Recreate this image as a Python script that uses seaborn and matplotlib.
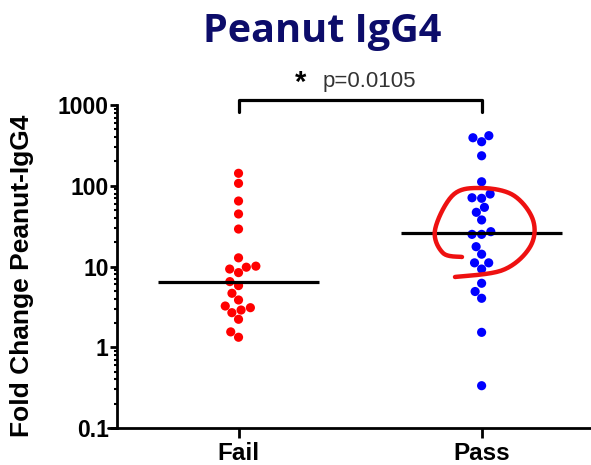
import numpy as np
import pandas as pd
import matplotlib
matplotlib.use("Agg")
import matplotlib.pyplot as plt
import seaborn as sns

# Fold change in peanut-specific IgG4 per subject, by challenge outcome
groups = ["Fail", "Pass"]
fail_values = [142.6, 107, 64.7, 44.7, 29.1, 12.8, 10.1, 9.8, 9.3, 8.4, 6.5,
               5.8, 4.66, 3.85, 3.24, 3.09, 2.89, 2.68, 2.22, 1.55, 1.33]
pass_values = [417, 393, 351, 235, 112, 79, 71, 69.9, 54, 46.9, 37.7, 27,
               25, 25, 17.6, 14.2, 11.1, 11.1, 9.3, 6.2, 4.9, 4.04, 1.53, 0.334]
group_colors = ["#ff0000", "#0000ff"]
y_ticks = [0.1, 1, 10, 100, 1000]
y_tick_labels = ["0.1", "1", "10", "100", "1000"]
p_text = "p=0.0105"

df = pd.DataFrame({
    "group": ["Fail"] * len(fail_values) + ["Pass"] * len(pass_values),
    "value": fail_values + pass_values,
})

sns.set_style("white")
plt.rcParams["font.family"] = ["Liberation Sans", "DejaVu Sans"]

W, H = 591, 465
fig = plt.figure(figsize=(W / 100, H / 100), dpi=100)
ax_left, ax_right, ax_bottom, ax_top = 117, 591, 428, 105
ax = fig.add_axes([ax_left / W, 1 - ax_bottom / H,
                   (ax_right - ax_left) / W, (ax_bottom - ax_top) / H])
ax.set_yscale("log")

sns.swarmplot(data=df, x="group", y="value", hue="group", order=groups,
              palette=group_colors, size=6.6, linewidth=0, ax=ax,
              legend=False, zorder=3)

# median bars
for i, vals in enumerate([fail_values, pass_values]):
    ax.hlines(np.median(vals), i - 0.33, i + 0.33, color="black",
              linewidth=2.3, zorder=4)

ax.set_ylim(0.1, 1000)
ax.set_xlim(-0.5, 1.45)
ax.set_yticks(y_ticks)
ax.set_yticklabels(y_tick_labels)
ax.yaxis.set_minor_locator(matplotlib.ticker.LogLocator(base=10, subs=np.arange(2, 10)))
ax.yaxis.set_minor_formatter(matplotlib.ticker.NullFormatter())

for s in ["top", "right"]:
    ax.spines[s].set_visible(False)
for s in ["left", "bottom"]:
    ax.spines[s].set_linewidth(2.0)
    ax.spines[s].set_color("black")

ax.tick_params(axis="y", which="major", direction="out", length=5, width=2,
               color="black", left=True, pad=1)
ax.tick_params(axis="y", which="minor", direction="out", length=2.5, width=1.5,
               color="black", left=True)
ax.tick_params(axis="x", which="major", direction="out", length=7, width=2,
               color="black", bottom=True, pad=3)
for lab in ax.get_yticklabels():
    lab.set_fontweight("bold")
    lab.set_fontsize(16.5)
    lab.set_color("black")
for lab in ax.get_xticklabels():
    lab.set_fontweight("bold")
    lab.set_fontsize(17.5)
    lab.set_color("black")

ax.set_xlabel("")
ax.set_ylabel("Fold Change Peanut-IgG4", fontsize=19, fontweight="bold",
              color="black")
ax.yaxis.set_label_coords(-0.175, 0.47)

# bottom axis line runs slightly past the y axis
fig.add_artist(matplotlib.lines.Line2D([108 / W, ax_left / W],
                                       [1 - ax_bottom / H] * 2,
                                       color="black", linewidth=2.0))

# significance bracket between the groups
y_bar, y_foot = 1150, 820
ax.plot([0, 0, 1, 1], [y_foot, y_bar, y_bar, y_foot], color="black",
        linewidth=2.3, clip_on=False, solid_joinstyle="round",
        solid_capstyle="round")
ax.text(0.255, 1850, "*", fontsize=21, fontweight="bold", color="black",
        ha="center", va="center", clip_on=False)
ax.text(0.345, 1950, p_text, fontsize=16, color="#333333",
        ha="left", va="center", clip_on=False)

# title
fig.text(322 / W, 1 - 42 / H, "Peanut IgG4", fontsize=28.5, fontweight="bold",
         color="#0c0c6a", ha="center", va="baseline", family="Open Sans")

# hand-drawn highlight loop around the Pass cluster
loop_px = np.array([(462, 257), (443, 253), (435, 230), (453, 195), (480, 188),
                    (513, 195), (533, 220), (530, 247), (503, 270), (455, 277)],
                   dtype=float)

def catmull_rom(pts, n=20):
    pts = np.vstack([pts[0], pts, pts[-1]])
    out = []
    for k in range(1, len(pts) - 2):
        p0, p1, p2, p3 = pts[k - 1], pts[k], pts[k + 1], pts[k + 2]
        t = np.linspace(0, 1, n, endpoint=False)[:, None]
        out.append(0.5 * ((2 * p1) + (-p0 + p2) * t
                          + (2 * p0 - 5 * p1 + 4 * p2 - p3) * t ** 2
                          + (-p0 + 3 * p1 - 3 * p2 + p3) * t ** 3))
    out.append(pts[-2][None, :])
    return np.vstack(out)

curve = catmull_rom(loop_px)
fig.add_artist(matplotlib.lines.Line2D(curve[:, 0] / W, 1 - curve[:, 1] / H,
                                       color="#ee1111", linewidth=3.2,
                                       solid_capstyle="round", zorder=10))

fig.savefig("out.png", dpi=100)
